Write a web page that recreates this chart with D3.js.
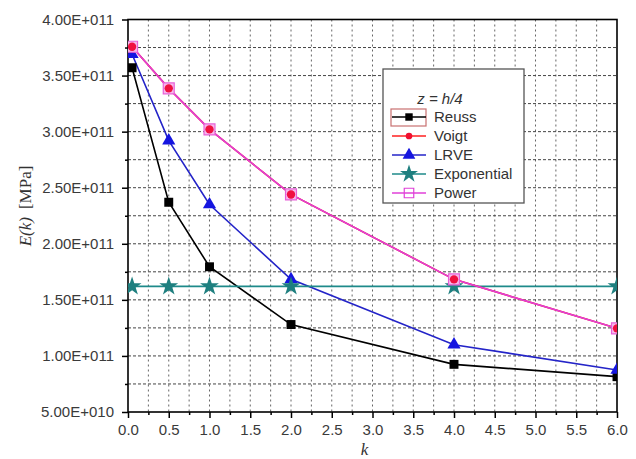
<!DOCTYPE html>
<html>
<head>
<meta charset="utf-8">
<script src="https://cdn.jsdelivr.net/npm/d3@7"></script>
<style>
  body { margin: 0; background: #fff; }
  .tick text { font-family: "Liberation Sans", Arial, sans-serif; font-size: 15px; fill: #3a3a3a; }
</style>
</head>
<body>
<svg id="chart" width="636" height="459"></svg>
<script>
// data
var kValues = [0.05, 0.5, 1.0, 2.0, 4.0, 6.0];
var reuss = [3.57e11, 2.37e11, 1.795e11, 1.28e11, 0.925e11, 0.815e11];
var voigt = [3.757e11, 3.386e11, 3.02e11, 2.44e11, 1.683e11, 1.246e11];
var lrve = [3.69e11, 2.92e11, 2.35e11, 1.683e11, 1.10e11, 0.875e11];
var exponential = [1.62e11, 1.62e11, 1.62e11, 1.62e11, 1.62e11, 1.62e11];
var power = [3.757e11, 3.386e11, 3.02e11, 2.44e11, 1.683e11, 1.246e11];
var seriesNames = ["Reuss", "Voigt", "LRVE", "Exponential", "Power"];
var xTicks = [0.0, 0.5, 1.0, 1.5, 2.0, 2.5, 3.0, 3.5, 4.0, 4.5, 5.0, 5.5, 6.0];
var yTicks = [5e10, 1e11, 1.5e11, 2e11, 2.5e11, 3e11, 3.5e11, 4e11];
var yTickLabels = ["5.00E+010", "1.00E+011", "1.50E+011", "2.00E+011", "2.50E+011", "3.00E+011", "3.50E+011", "4.00E+011"];

var margin = {top: 19.5, right: 19, bottom: 47, left: 128};
var svg = d3.select("#chart");
var width = 636 - margin.left - margin.right,
    height = 459 - margin.top - margin.bottom;

var x = d3.scaleLinear().domain([0, 6]).range([0, width]);
var y = d3.scaleLinear().domain([5e10, 4e11]).range([height, 0]);

var g = svg.append("g")
    .attr("transform", "translate(" + margin.left + "," + margin.top + ")");

g.append("clipPath").attr("id", "plotclip")
    .append("rect").attr("width", width).attr("height", height);

// grid
var xMinor = d3.range(0.25, 6, 0.25);
var yMinor = d3.range(7.5e10, 4e11, 2.5e10);
g.selectAll(".vgrid").data(xMinor).enter().append("line")
    .attr("x1", function(d) { return x(d); }).attr("x2", function(d) { return x(d); })
    .attr("y1", 0).attr("y2", height)
    .attr("stroke", "#666").attr("stroke-width", 1).attr("stroke-dasharray", "2,3");
g.selectAll(".hgrid").data(yMinor).enter().append("line")
    .attr("x1", 0).attr("x2", width)
    .attr("y1", function(d) { return y(d); }).attr("y2", function(d) { return y(d); })
    .attr("stroke", "#444").attr("stroke-width", 1).attr("stroke-dasharray", "3,2");

// axes
var xAxis = d3.axisBottom(x).tickValues(xTicks).tickFormat(d3.format(".1f")).tickSize(6).tickPadding(6);
var xAxisMinor = d3.axisBottom(x).tickValues(d3.range(0.25, 6, 0.5)).tickFormat("").tickSize(3);
var yAxis = d3.axisLeft(y).tickValues(yTicks).tickFormat(function(d, i) { return yTickLabels[i]; }).tickSize(6).tickPadding(8);
var yAxisMinor = d3.axisLeft(y).tickValues(d3.range(7.5e10, 4e11, 5e10)).tickFormat("").tickSize(3);

function styleAxis(sel) {
    sel.select(".domain").remove();
    sel.selectAll(".tick line").attr("stroke", "#000").attr("stroke-width", 1.5);
}
g.append("g").attr("transform", "translate(0," + height + ")").call(xAxis).call(styleAxis);
g.append("g").attr("transform", "translate(0," + height + ")").call(xAxisMinor).call(styleAxis);
g.append("g").call(yAxis).call(styleAxis);
g.append("g").call(yAxisMinor).call(styleAxis);
g.selectAll(".tick text").attr("font-family", null).attr("font-size", null);

g.append("rect").attr("width", width).attr("height", height)
    .attr("fill", "none").attr("stroke", "#000").attr("stroke-width", 1.6);

// series
var plot = g.append("g").attr("clip-path", "url(#plotclip)");
function pts(vals) { return kValues.map(function(k, i) { return [k, vals[i]]; }); }
var line = d3.line().x(function(d) { return x(d[0]); }).y(function(d) { return y(d[1]); });

var seriesDefs = [
    {vals: reuss, color: "#000000", shape: d3.symbolSquare, size: 80, fill: "#000000", stroke: "none"},
    {vals: lrve, color: "#2424c8", shape: d3.symbolTriangle, size: 75, fill: "#1515e0", stroke: "none"},
    {vals: exponential, color: "#1e8a8a", shape: d3.symbolStar, size: 110, fill: "#1e7f7f", stroke: "none"},
    {vals: voigt, color: "#ff0000", shape: null},
    {vals: power, color: "#e040d8", shape: d3.symbolSquare, size: 120, fill: "#f6b8ec", stroke: "#e860d8"},
    {vals: voigt, color: null, shape: d3.symbolCircle, size: 55, fill: "#f01040", stroke: "none"}
];
seriesDefs.forEach(function(s) {
    if (s.color) {
        plot.append("path").datum(pts(s.vals))
            .attr("d", line).attr("fill", "none")
            .attr("stroke", s.color).attr("stroke-width", 1.6);
    }
});
seriesDefs.forEach(function(s) {
    if (!s.shape) return;
    plot.selectAll(null).data(pts(s.vals)).enter().append("path")
        .attr("transform", function(d) { return "translate(" + x(d[0]) + "," + y(d[1]) + ")"; })
        .attr("d", d3.symbol().type(s.shape).size(s.size))
        .attr("fill", s.fill).attr("stroke", s.stroke).attr("stroke-width", 1.2);
});

// axis titles
svg.append("text")
    .attr("x", margin.left + x(3.0) - 8).attr("y", 455)
    .attr("text-anchor", "middle")
    .attr("font-family", "Liberation Serif, serif").attr("font-style", "italic")
    .attr("font-size", 17).attr("fill", "#333")
    .text("k");
var yt = svg.append("text")
    .attr("transform", "translate(31,206) rotate(-90)")
    .attr("text-anchor", "middle")
    .attr("font-family", "Liberation Serif, serif").attr("font-size", 17).attr("fill", "#333");
yt.append("tspan").attr("font-style", "italic").text("E(k)");
yt.append("tspan").attr("dx", 8).text("[MPa]");

// legend
var lg = svg.append("g").attr("transform", "translate(383,69)");
lg.append("rect").attr("width", 141).attr("height", 134)
    .attr("fill", "#fff").attr("stroke", "#555").attr("stroke-width", 1.3);
lg.append("text").attr("x", 57).attr("y", 35)
    .attr("text-anchor", "middle")
    .attr("font-family", "Liberation Sans, Arial, sans-serif").attr("font-style", "italic")
    .attr("font-size", 15).attr("fill", "#333").text("z = h/4");
lg.append("rect").attr("x", 8).attr("y", 40).attr("width", 35).attr("height", 17)
    .attr("fill", "none").attr("stroke", "#c87070").attr("stroke-width", 1.2);
var legendMarks = [
    {color: "#000000", shape: d3.symbolSquare, size: 55, fill: "#000", stroke: "none"},
    {color: "#ff2020", shape: d3.symbolCircle, size: 35, fill: "#f01030", stroke: "none"},
    {color: "#2424c8", shape: d3.symbolTriangle, size: 70, fill: "#1515e0", stroke: "none"},
    {color: "#1e8a8a", shape: d3.symbolStar, size: 100, fill: "#1e7f7f", stroke: "none"},
    {color: "#e040d8", shape: d3.symbolSquare, size: 90, fill: "none", stroke: "#e040d8"}
];
seriesNames.forEach(function(name, i) {
    var yy = 48 + i * 19;
    var m = legendMarks[i];
    lg.append("line").attr("x1", 9).attr("x2", 43).attr("y1", yy).attr("y2", yy)
        .attr("stroke", m.color).attr("stroke-width", 1.6);
    lg.append("path").attr("transform", "translate(26," + yy + ")")
        .attr("d", d3.symbol().type(m.shape).size(m.size))
        .attr("fill", m.fill).attr("stroke", m.stroke).attr("stroke-width", 1.2);
    lg.append("text").attr("x", 51).attr("y", yy + 5)
        .attr("font-family", "Liberation Sans, Arial, sans-serif")
        .attr("font-size", 15).attr("fill", "#333").text(name);
});
</script>
</body>
</html>
